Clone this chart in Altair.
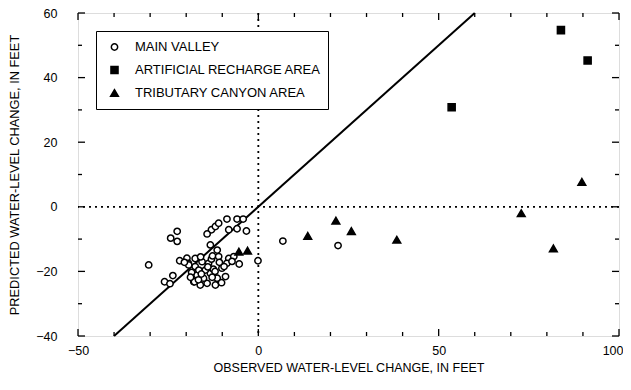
import altair as alt
import pandas as pd

# ---- data ----
main_x = [-30.4, -26.0, -24.5, -23.7, -24.3, -22.5, -22.5, -21.8, -19.8, -19.4,
          -17.5, -19.3, -17.5, -15.6, -13.8, -17.0, -17.9, -16.1, -14.2, -15.2,
          -13.3, -14.7, -16.5, -12.5, -10.1, -11.4, -9.1, -11.9, -10.2, -17.7,
          -16.6, -18.5, -15.8, -12.8, -14.0, -13.0, -12.7, -11.0, -11.4, -13.3,
          -8.2, -6.8, -8.7, -7.3, -5.3, -9.5, -13.0, -11.9, -14.2, -8.2,
          -5.9, -3.3, -11.0, -8.7, -5.9, -4.2, -0.1, 6.8, 22.1, -20.5,
          -16.0, -18.8, -10.8, -12.0]
main_y = [-18.0, -23.2, -23.8, -21.3, -9.7, -7.6, -10.7, -16.7, -15.9, -17.5,
          -16.0, -18.0, -18.5, -17.0, -17.5, -21.1, -23.2, -24.2, -23.7, -22.1,
          -20.6, -19.6, -19.6, -19.3, -19.0, -22.1, -21.6, -24.2, -23.5, -23.2,
          -22.6, -20.3, -20.8, -21.8, -18.6, -16.2, -15.2, -15.4, -13.4, -11.8,
          -16.0, -15.4, -17.5, -16.9, -17.7, -18.5, -7.1, -6.1, -8.4, -7.1,
          -6.8, -7.5, -5.1, -3.8, -3.8, -3.8, -16.7, -10.6, -12.0, -17.2,
          -15.5, -21.8, -17.2, -20.0]
recharge_x = [83.9, 91.3, 53.6]
recharge_y = [54.7, 45.3, 30.8]
trib_x = [89.7, 72.9, 81.8, 21.5, 25.8, 13.7, 38.4, -5.4, -3.0]
trib_y = [7.7, -2.0, -12.9, -4.3, -7.5, -9.0, -10.2, -13.9, -13.6]

groups = ["MAIN VALLEY", "ARTIFICIAL RECHARGE AREA", "TRIBUTARY CANYON AREA"]

x_ticks = list(range(-50, 101, 10))
y_ticks = list(range(-40, 61, 10))
x_labels = [-50, 0, 50, 100]
y_labels = [-40, -20, 0, 20, 40, 60]
line_ends = [-40, 60]

# ---- layout ----
W, H = 541, 323
FONT = "Liberation Sans"

pts = pd.concat([
    pd.DataFrame({"x": main_x, "y": main_y, "g": groups[0]}),
    pd.DataFrame({"x": recharge_x, "y": recharge_y, "g": groups[1]}),
    pd.DataFrame({"x": trib_x, "y": trib_y, "g": groups[2]}),
], ignore_index=True)

xs = alt.Scale(domain=[-50, 100], nice=False, zero=False)
ys = alt.Scale(domain=[-40, 60], nice=False, zero=False)

last_x = "datum.value == %d" % x_labels[-1]
xaxis = alt.Axis(
    values=x_labels, ticks=False, domain=False, grid=False, labelFlush=False,
    labelAlign={"condition": {"test": last_x, "value": "right"}, "value": "center"},
    labelOffset={"condition": {"test": last_x, "value": 4}, "value": 0},
    labelFontSize=12.5, labelFont=FONT, labelPadding=8, labelColor="black",
    title="OBSERVED WATER-LEVEL CHANGE, IN FEET", titleFont=FONT,
    titleFontSize=12.5, titleFontWeight="normal", titlePadding=5, titleColor="black")
yaxis = alt.Axis(
    values=y_labels, ticks=False, domain=False, grid=False, labelFlush=False,
    labelFontSize=12.5, labelFont=FONT, labelPadding=21, labelColor="black",
    title="PREDICTED WATER-LEVEL CHANGE, IN FEET", titleFont=FONT,
    titleFontSize=12.8, titleFontWeight="normal", titlePadding=14, titleColor="black")

xt = pd.DataFrame({"v": x_ticks})
xt["major"] = xt["v"].isin(x_labels)
yt = pd.DataFrame({"v": y_ticks})
yt["major"] = yt["v"].isin(y_labels)

def xtick_layer(major, top):
    L = 7 if major else 4
    d = xt[xt["major"] == major]
    y0, y1 = (0, L) if top else (H, H - L)
    return alt.Chart(d).mark_rule(color="black", strokeWidth=1.3).encode(
        x=alt.X("v:Q", scale=xs, axis=xaxis),
        y=alt.value(y0), y2=alt.value(y1))

def ytick_layer(major, right):
    L = 7 if major else 4
    d = yt[yt["major"] == major]
    x0, x1 = (W, W - L) if right else (0, L)
    return alt.Chart(d).mark_rule(color="black", strokeWidth=1.3).encode(
        y=alt.Y("v:Q", scale=ys, axis=yaxis),
        x=alt.value(x0), x2=alt.value(x1))

ticks = [xtick_layer(m, t) for m in (True, False) for t in (True, False)] + \
        [ytick_layer(m, r) for m in (True, False) for r in (True, False)]

zero = pd.DataFrame({"z": [0]})
vzero = alt.Chart(zero).mark_rule(color="black", strokeWidth=1.8, strokeDash=[2, 4]).encode(
    x=alt.X("z:Q", scale=xs, axis=xaxis))
hzero = alt.Chart(zero).mark_rule(color="black", strokeWidth=1.8, strokeDash=[2, 4]).encode(
    y=alt.Y("z:Q", scale=ys, axis=yaxis))

one = pd.DataFrame({"x": line_ends, "y": line_ends})
oneline = alt.Chart(one).mark_line(color="black", strokeWidth=2).encode(
    x=alt.X("x:Q", scale=xs, axis=xaxis),
    y=alt.Y("y:Q", scale=ys, axis=yaxis))

points = alt.Chart(pts).mark_point(stroke="black", strokeWidth=1.5, opacity=1).encode(
    x=alt.X("x:Q", scale=xs, axis=xaxis),
    y=alt.Y("y:Q", scale=ys, axis=yaxis),
    shape=alt.Shape("g:N", scale=alt.Scale(domain=groups, range=["circle", "square", "triangle-up"]),
                    legend=alt.Legend(title=None, orient="none", legendX=18, legendY=18,
                                      strokeColor="black", fillColor="white", padding=6,
                                      labelFont=FONT, labelFontSize=13, labelColor="black",
                                      symbolStrokeColor="black", symbolStrokeWidth=1.5,
                                      symbolOffset=6, labelOffset=14, rowPadding=3,
                                      clipHeight=20, labelLimit=300)),
    fill=alt.Fill("g:N", scale=alt.Scale(domain=groups, range=["white", "black", "black"])),
    size=alt.Size("g:N", scale=alt.Scale(domain=groups, range=[40, 60, 55])),
)

chart = alt.layer(*ticks, vzero, hzero, oneline, points).properties(
    width=W, height=H,
    padding={"left": 70, "top": 5, "right": 4, "bottom": 42},
    autosize=alt.AutoSizeParams(type="none"),
).configure_view(stroke="black", strokeWidth=1.5).configure(background="white")

chart.save("out.html", embed_options={"renderer": "svg", "actions": False})
